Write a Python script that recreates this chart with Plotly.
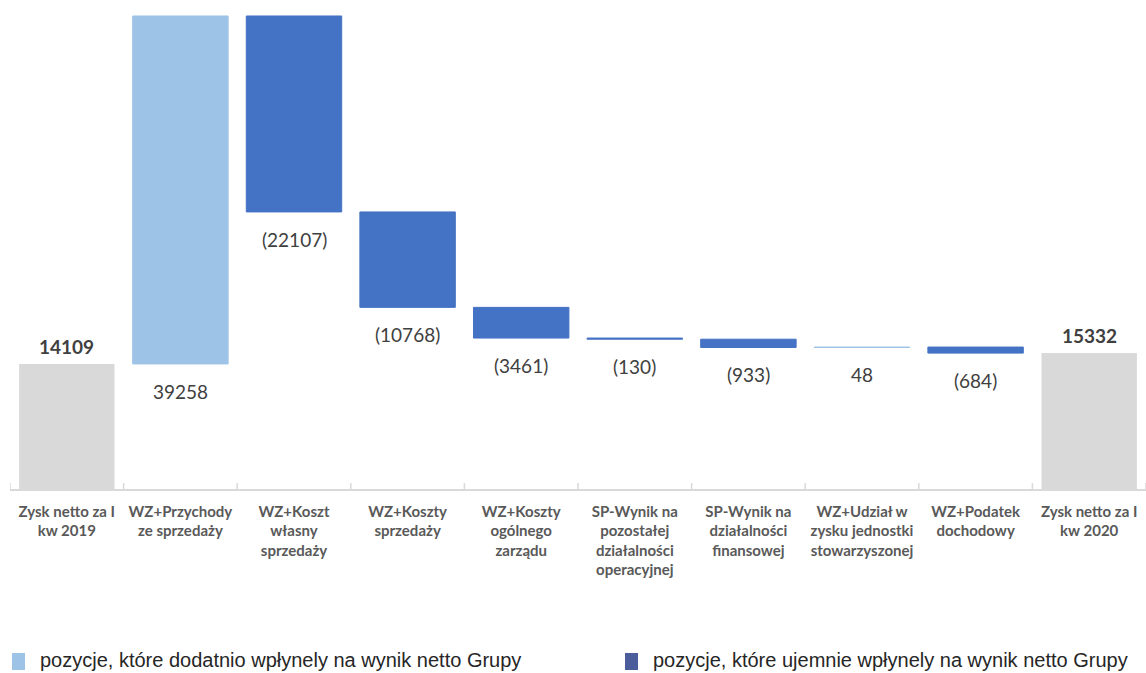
import plotly.graph_objects as go

categories = [
    "Zysk netto za I<br>kw 2019",
    "WZ+Przychody<br>ze sprzedaży",
    "WZ+Koszt<br>własny<br>sprzedaży",
    "WZ+Koszty<br>sprzedaży",
    "WZ+Koszty<br>ogólnego<br>zarządu",
    "SP-Wynik na<br>pozostałej<br>działalności<br>operacyjnej",
    "SP-Wynik na<br>działalności<br>finansowej",
    "WZ+Udział w<br>zysku jednostki<br>stowarzyszonej",
    "WZ+Podatek<br>dochodowy",
    "Zysk netto za I<br>kw 2020",
]
values = [14109, 39258, -22107, -10768, -3461, -130, -933, 48, -684, 15332]
measures = ["total", "relative", "relative", "relative", "relative",
            "relative", "relative", "relative", "relative", "total"]
value_labels = ["14109", "39258", "(22107)", "(10768)", "(3461)",
                "(130)", "(933)", "48", "(684)", "15332"]
legend_labels = [
    "pozycje, które dodatnio wpłynely na wynik netto Grupy",
    "pozycje, które ujemnie wpłynely na wynik netto Grupy",
]

W, H = 1146, 673
ML, MR, MT, MB = 10, 0, 10, 184
PW, PH = W - ML - MR, H - MT - MB

def px_x(px):
    return (px - ML) / PW

def px_y(py):
    return (H - MB - py) / PH

# compute floating bars
bases, heights, kinds = [], [], []
running = 0
for v, m in zip(values, measures):
    if m == "total":
        bases.append(0); heights.append(v); kinds.append("total"); running = v
    else:
        if v >= 0:
            bases.append(running); heights.append(v); kinds.append("up")
        else:
            bases.append(running + v); heights.append(-v); kinds.append("down")
        running += v

colors = {"total": "#D9D9D9", "up": "#9DC3E6", "down": "#4472C4"}
xs = list(range(len(categories)))

fig = go.Figure()
for k in ["total", "up", "down"]:
    idx = [i for i in xs if kinds[i] == k]
    lw = 0 if k == "total" else 1
    fig.add_trace(go.Bar(
        x=idx, y=[heights[i] for i in idx], base=[bases[i] for i in idx],
        marker=dict(color=colors[k], line=dict(width=lw, color=colors[k])),
        width=0.84, showlegend=False, hoverinfo="skip",
    ))

annotations = []
for i in xs:
    if kinds[i] == "total":
        annotations.append(dict(
            x=i, y=bases[i] + heights[i], xref="x", yref="y",
            text="<b>%s</b>" % value_labels[i], showarrow=False,
            yanchor="bottom", yshift=4,
            font=dict(family="Lato", size=19, color="#404040"),
        ))
    else:
        annotations.append(dict(
            x=i, y=bases[i], xref="x", yref="y",
            text=value_labels[i], showarrow=False,
            yanchor="top", yshift=-14,
            font=dict(family="Lato", size=19, color="#404040"),
        ))

# legend (custom, bottom)
leg_colors = ["#9DC3E6", "#4B5E9B"]
leg_px = [12, 625]
shapes = []
for lx, lc, lt in zip(leg_px, leg_colors, legend_labels):
    shapes.append(dict(type="rect", xref="paper", yref="paper",
                       x0=px_x(lx), x1=px_x(lx + 13), y0=px_y(670), y1=px_y(653),
                       fillcolor=lc, line=dict(width=0)))
    annotations.append(dict(
        x=px_x(lx + 26), y=px_y(660), xref="paper", yref="paper",
        xanchor="left", yanchor="middle", showarrow=False, text=lt,
        font=dict(family="Liberation Sans", size=20, color="#262626"),
    ))

# category separator ticks crossing the axis
for i in range(len(categories) + 1):
    shapes.append(dict(type="line", xref="x", yref="y", ysizemode="pixel", yanchor=0,
                       x0=i - 0.5, x1=i - 0.5, y0=-6, y1=6,
                       line=dict(color="#D9D9D9", width=1.5)))

fig.update_layout(
    width=W, height=H,
    margin=dict(l=ML, r=MR, t=MT, b=MB),
    plot_bgcolor="white", paper_bgcolor="white",
    barmode="overlay",
    annotations=annotations, shapes=shapes,
    xaxis=dict(
        range=[-0.5, len(categories) - 0.5],
        tickvals=xs, ticktext=["<b>%s</b>" % c for c in categories],
        tickfont=dict(family="Lato", size=15, color="#595959"),
        showline=True, linecolor="#D9D9D9", linewidth=1.5,
        showgrid=False, zeroline=False, ticks="",
        ticklabelstandoff=8,
    ),
    yaxis=dict(range=[0, 54043], visible=False, showgrid=False, zeroline=False),
)

fig.write_html("out.html")
